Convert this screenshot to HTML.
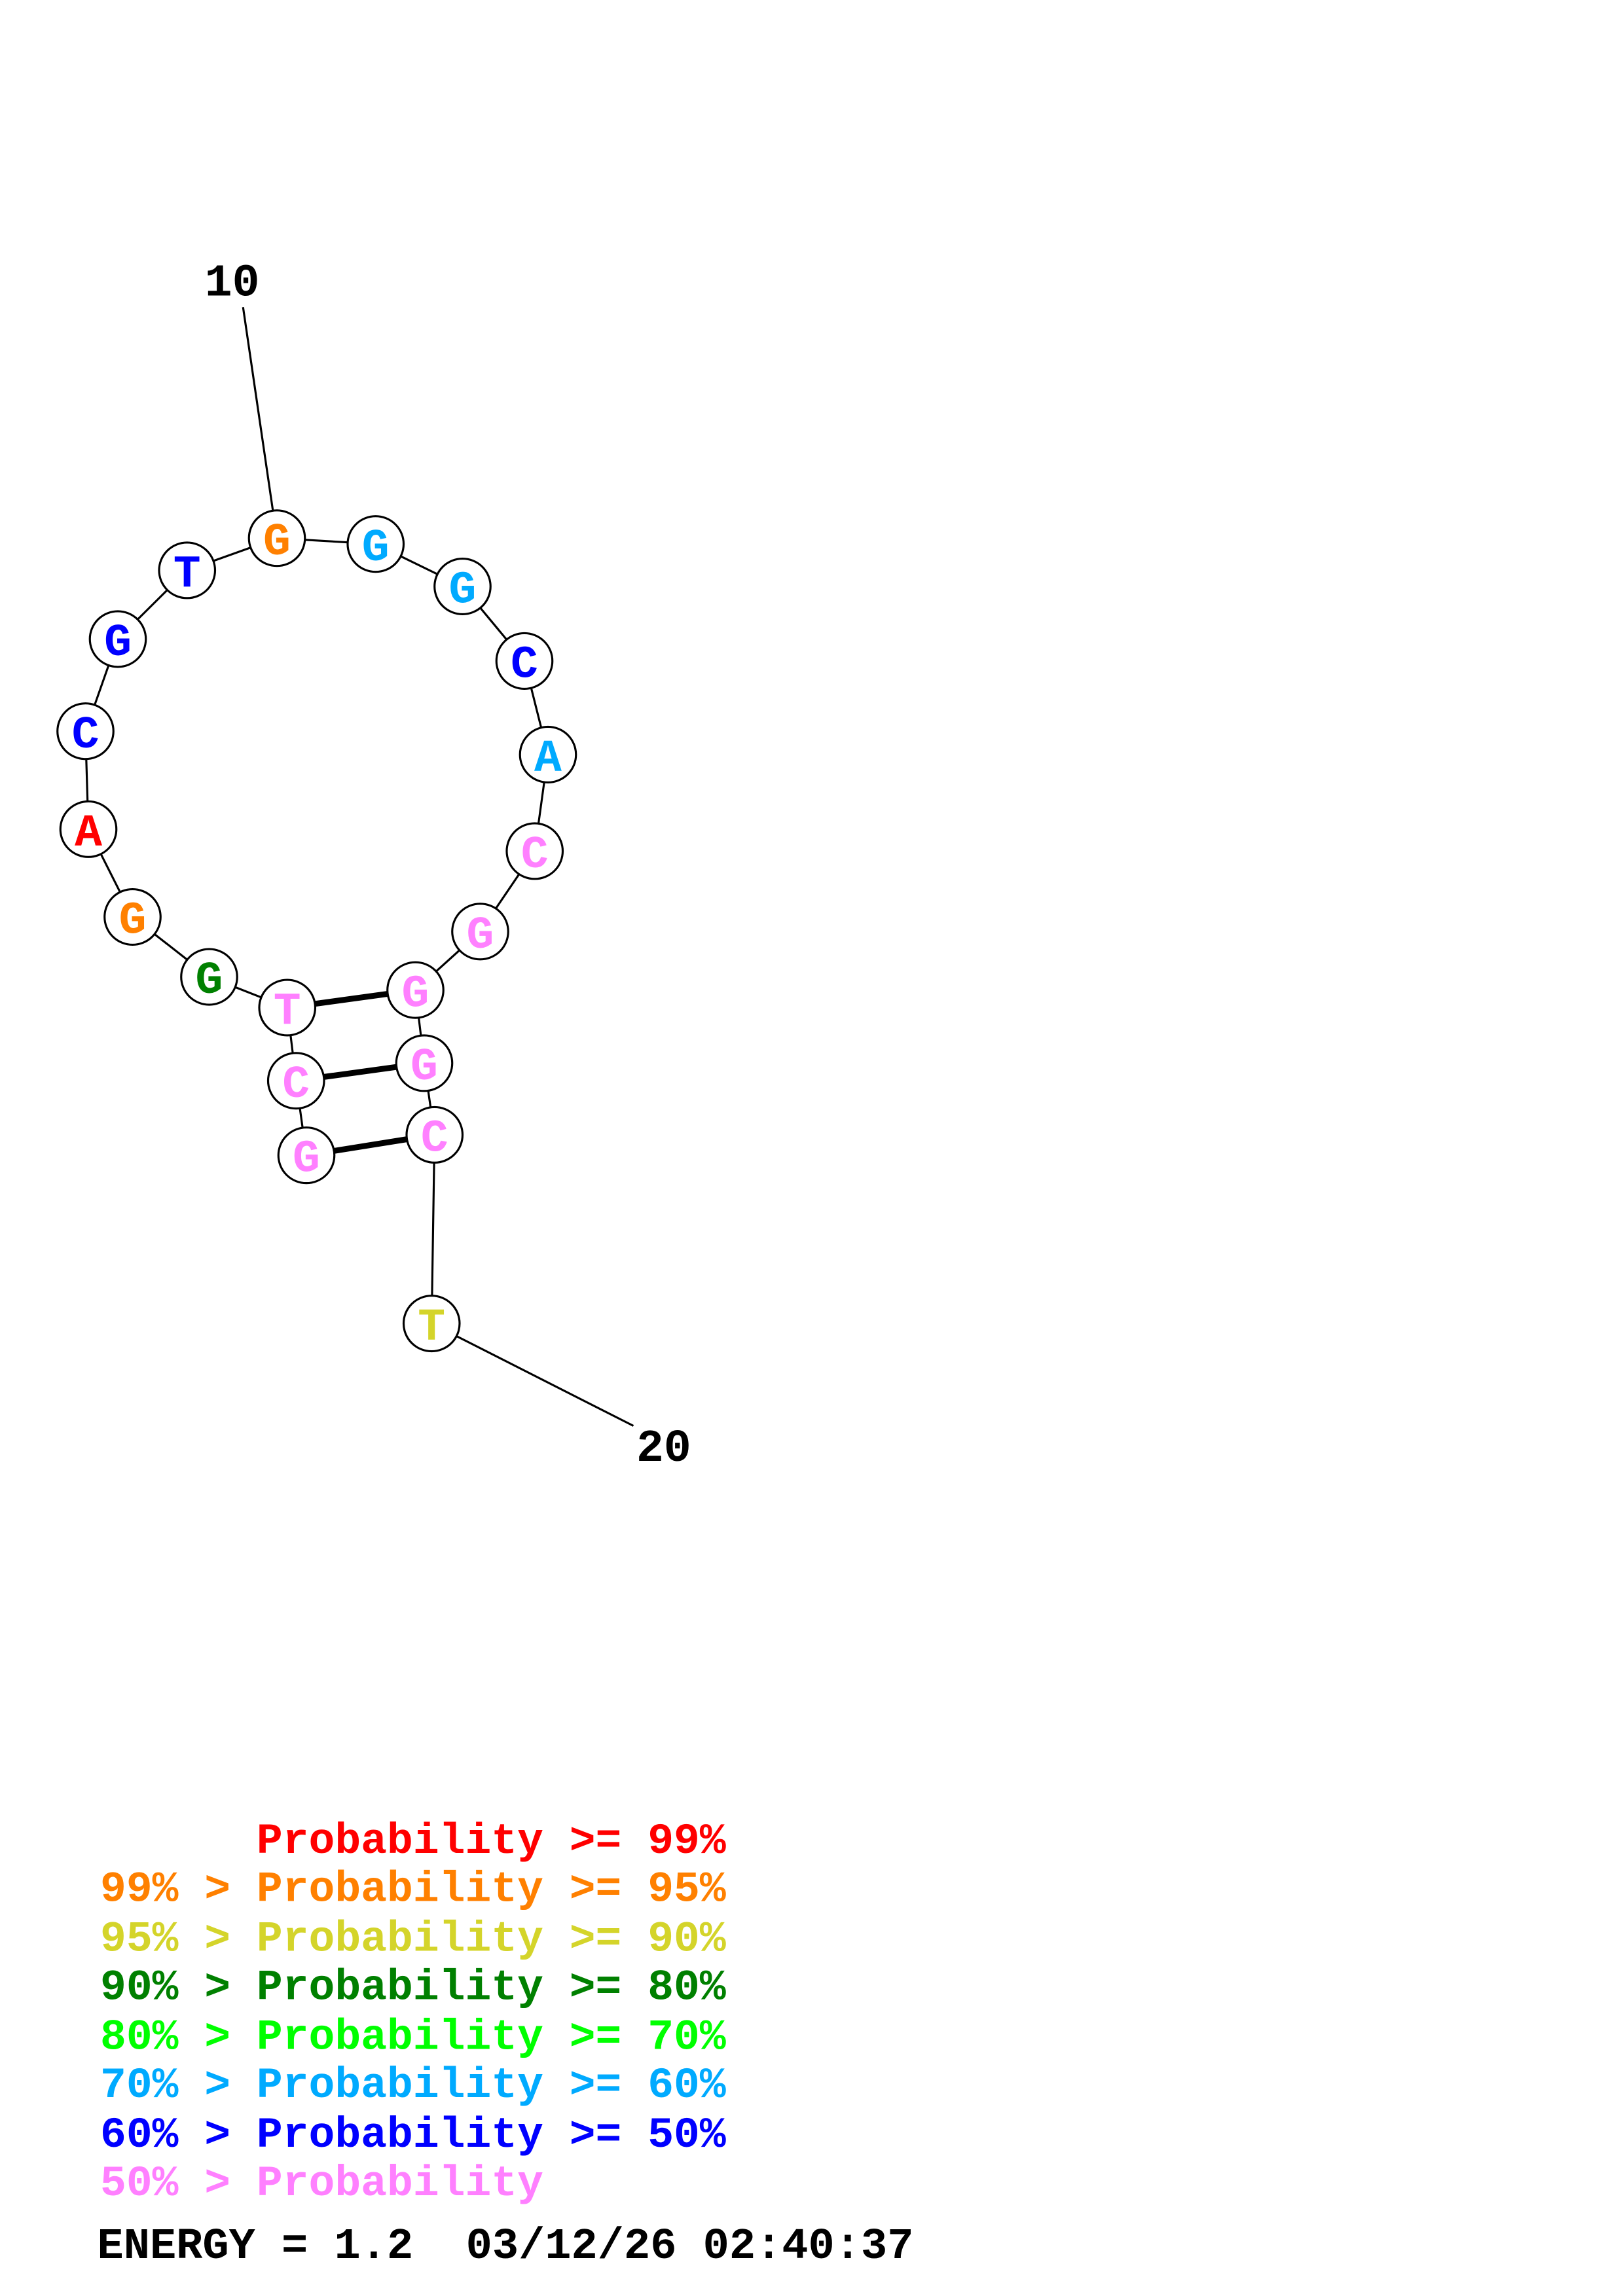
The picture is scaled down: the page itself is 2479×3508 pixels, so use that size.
<!DOCTYPE html>
<html><head><meta charset="utf-8"><style>html,body{margin:0;padding:0;background:#fff}svg{display:block}text{white-space:pre}</style></head>
<body>
<svg width="2479" height="3508" viewBox="0 0 1101.8 1570" preserveAspectRatio="none" xmlns="http://www.w3.org/2000/svg">
<g stroke="#000" stroke-width="1.4" fill="none">
<line x1="165" y1="210" x2="188" y2="368"/>
<polyline points="208,790 201,739 195,689 142,668 90,627 60,567 58,500 80,437 127,390 188,368 255,372 314,401 356,452 372,516 363,582 326,637 282,677 288,727 295,776 293,905 430,975"/>
</g>
<g stroke="#000" stroke-width="4">
<line x1="195" y1="689" x2="282" y2="677"/>
<line x1="201" y1="739" x2="288" y2="727"/>
<line x1="208" y1="790" x2="295" y2="776"/>
</g>
<g fill="#fff" stroke="#000" stroke-width="1.4">
<circle cx="188" cy="368" r="19"/><circle cx="255" cy="372" r="19"/><circle cx="314" cy="401" r="19"/>
<circle cx="356" cy="452" r="19"/><circle cx="372" cy="516" r="19"/><circle cx="363" cy="582" r="19"/>
<circle cx="326" cy="637" r="19"/><circle cx="282" cy="677" r="19"/><circle cx="288" cy="727" r="19"/>
<circle cx="295" cy="776" r="19"/><circle cx="293" cy="905" r="19"/>
<circle cx="127" cy="390" r="19"/><circle cx="80" cy="437" r="19"/><circle cx="58" cy="500" r="19"/>
<circle cx="60" cy="567" r="19"/><circle cx="90" cy="627" r="19"/><circle cx="142" cy="668" r="19"/>
<circle cx="195" cy="689" r="19"/><circle cx="201" cy="739" r="19"/><circle cx="208" cy="790" r="19"/>
</g>
<g font-family="Liberation Mono, monospace" font-weight="bold" font-size="31" text-anchor="middle">
<text x="188" y="379" fill="#ff8000">G</text>
<text x="255" y="383" fill="#00aaff">G</text>
<text x="314" y="412" fill="#00aaff">G</text>
<text x="356" y="463" fill="#0000ff">C</text>
<text x="372" y="527" fill="#00aaff">A</text>
<text x="363" y="593" fill="#ff80ff">C</text>
<text x="326" y="648" fill="#ff80ff">G</text>
<text x="282" y="688" fill="#ff80ff">G</text>
<text x="288" y="738" fill="#ff80ff">G</text>
<text x="295" y="787" fill="#ff80ff">C</text>
<text x="293" y="916" fill="#d4d42a">T</text>
<text x="127" y="401" fill="#0000ff">T</text>
<text x="80" y="448" fill="#0000ff">G</text>
<text x="58" y="511" fill="#0000ff">C</text>
<text x="60" y="578" fill="#ff0000">A</text>
<text x="90" y="638" fill="#ff8000">G</text>
<text x="142" y="679" fill="#008000">G</text>
<text x="195" y="700" fill="#ff80ff">T</text>
<text x="201" y="750" fill="#ff80ff">C</text>
<text x="208" y="801" fill="#ff80ff">G</text>
</g>
<g font-family="Liberation Mono, monospace" font-weight="bold" font-size="31" fill="#000">
<text x="139" y="202">10</text>
<text x="432" y="999">20</text>
</g>
<g font-family="Liberation Mono, monospace" font-weight="bold" font-size="29.5">
<text x="68" y="1267" fill="#ff0000">      Probability &gt;= 99%</text>
<text x="68" y="1300" fill="#ff8000">99% &gt; Probability &gt;= 95%</text>
<text x="68" y="1334" fill="#d4d42a">95% &gt; Probability &gt;= 90%</text>
<text x="68" y="1367" fill="#008000">90% &gt; Probability &gt;= 80%</text>
<text x="68" y="1401" fill="#00ff00">80% &gt; Probability &gt;= 70%</text>
<text x="68" y="1434" fill="#00aaff">70% &gt; Probability &gt;= 60%</text>
<text x="68" y="1468" fill="#0000ff">60% &gt; Probability &gt;= 50%</text>
<text x="68" y="1501" fill="#ff80ff">50% &gt; Probability</text>
<text x="66" y="1544" fill="#000" font-size="29.8">ENERGY = 1.2  03/12/26 02:40:37</text>
</g>
</svg>
</body></html>
